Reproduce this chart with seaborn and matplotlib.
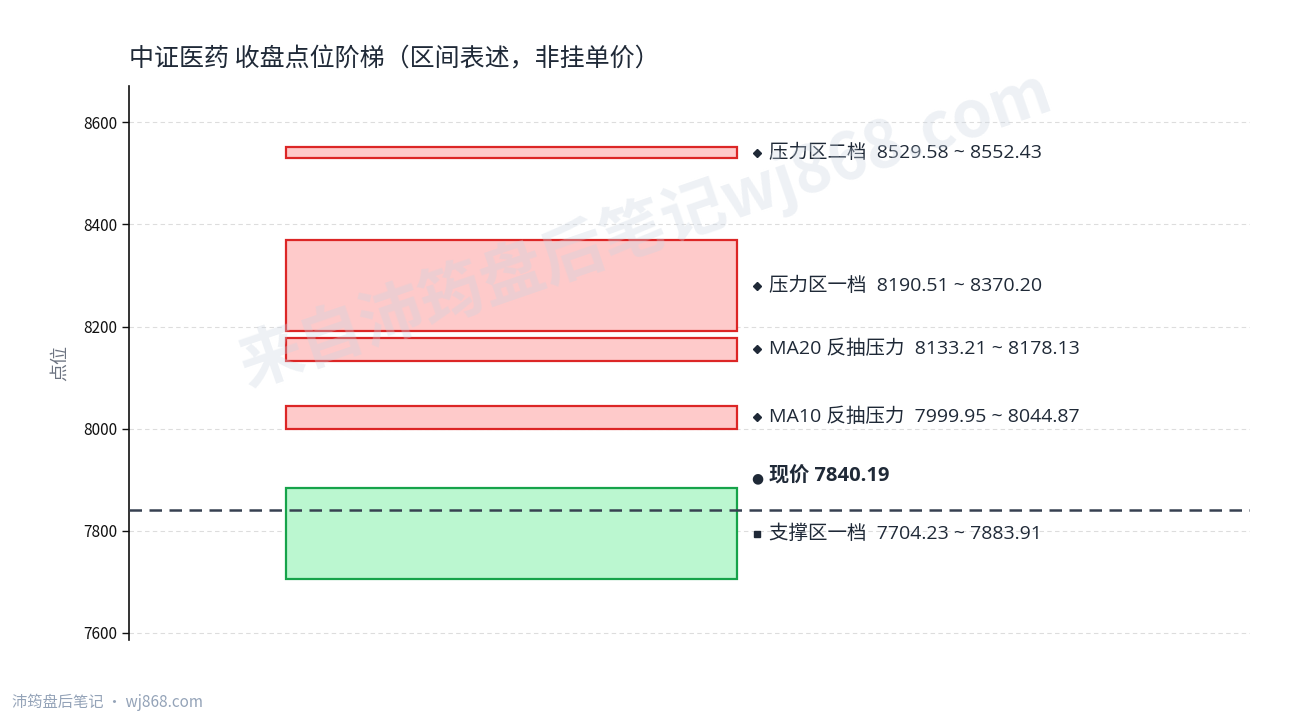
import numpy as np
import pandas as pd
import matplotlib
matplotlib.use("Agg")
import matplotlib.pyplot as plt
import seaborn as sns

# data
zone_names = ["压力区二档", "压力区一档", "MA20 反抽压力", "MA10 反抽压力", "支撑区一档"]
zone_low = [8529.58, 8190.51, 8133.21, 7999.95, 7704.23]
zone_high = [8552.43, 8370.20, 8178.13, 8044.87, 7883.91]
zone_kind = ["压力", "压力", "压力", "压力", "支撑"]
current_price = 7840.19
y_ticks = [7600, 7800, 8000, 8200, 8400, 8600]

df = pd.DataFrame({"name": zone_names, "low": zone_low, "high": zone_high, "kind": zone_kind})

sns.set_theme(style="white")
plt.rcParams['font.family'] = ['Noto Sans CJK SC', 'DejaVu Sans']
plt.rcParams['axes.unicode_minus'] = False
label_font = ['Open Sans', 'Noto Sans CJK SC', 'DejaVu Sans']

fig = plt.figure(figsize=(12.9, 7.2), dpi=100)
ax = fig.add_axes([0.1, 0.111, 0.869, 0.7694])

colors = {"压力": ("#fecaca", "#dc2626"), "支撑": ("#bbf7d0", "#16a34a")}
for _, r in df.iterrows():
    fc, ec = colors[r["kind"]]
    ax.bar(0.341, r["high"] - r["low"], bottom=r["low"], width=0.402,
           color=fc, edgecolor=ec, linewidth=1.6, zorder=3)
    mk = "D" if r["kind"] == "压力" else "s"
    ms = 4 if mk == "D" else 5
    mid = (r["low"] + r["high"]) / 2
    ax.plot(0.56, mid, marker=mk, markersize=ms, color="#1f2937", zorder=5)
    ax.text(0.571, mid, f"{r['name']}  {r['low']:.2f} ~ {r['high']:.2f}",
            va="center", ha="left", fontsize=14, color="#1f2937",
            family=label_font, zorder=5)

# current price
ax.axhline(current_price, color="#374151", linestyle=(0, (5, 3)), linewidth=1.8, zorder=4)
ax.annotate(f"现价 {current_price:.2f}", xy=(0.571, current_price), xytext=(0, 24),
            textcoords="offset points", va="center", ha="left",
            fontsize=14.5, fontweight="bold", color="#1f2937",
            family=label_font, zorder=5)
ax.annotate("●", xy=(0.555, current_price), xytext=(0, 23),
            textcoords="offset points", va="center", ha="left",
            fontsize=10, color="#1f2937", family="DejaVu Sans", zorder=5)

lo_all, hi_all = min(zone_low), max(zone_high)
pad = (hi_all - lo_all) * 0.14
ax.set_ylim(lo_all - pad, hi_all + pad)
ax.set_xlim(0, 1)
ax.set_yticks(y_ticks)
ax.set_xticks([])
ax.tick_params(axis="y", left=True, length=5, width=1, labelsize=11, colors="#111111")
ax.yaxis.grid(True, linestyle=(0, (4, 3)), color="#dddddd", linewidth=0.8)
ax.set_axisbelow(True)
sns.despine(ax=ax, top=True, right=True, bottom=True)
ax.spines["left"].set_color("#111111")
ax.spines["left"].set_linewidth(1.2)

ax.set_ylabel("点位", fontsize=13, color="#6b7280", labelpad=10)
ax.set_title("中证医药 收盘点位阶梯（区间表述，非挂单价）", loc="left", fontsize=18,
             color="#1f2937", pad=14)

# watermark
fig.text(0.500, 0.682, "来自沛筠盘后笔记wj868.com", fontsize=46, fontweight="bold",
         color="#cbd5e1", alpha=0.33, rotation=19, ha="center", va="center", zorder=10)

fig.text(0.009, 0.018, "沛筠盘后笔记 · wj868.com", fontsize=11, color="#94a3b8")

fig.savefig("out.png", dpi=100)
